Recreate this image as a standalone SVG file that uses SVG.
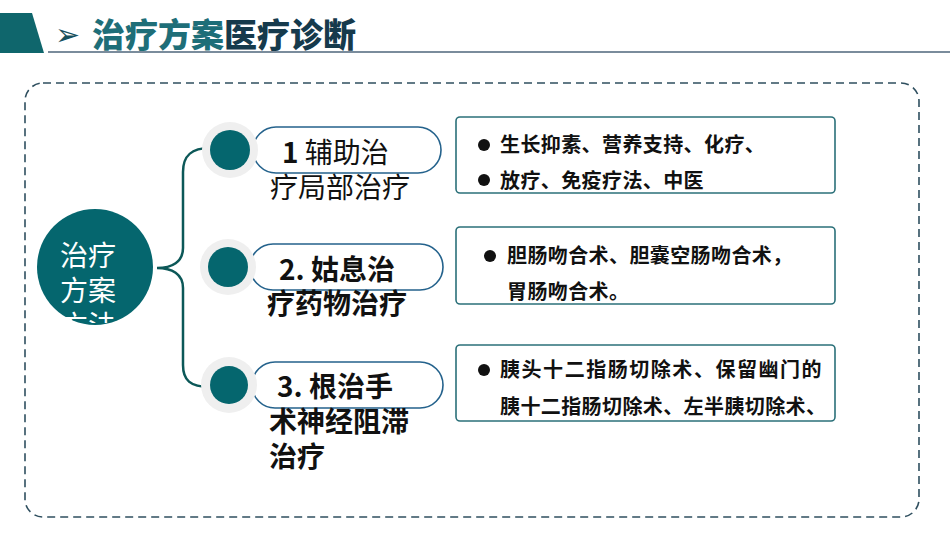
<svg xmlns="http://www.w3.org/2000/svg" width="950" height="535" viewBox="0 0 950 535">
<defs>
<style>
.cjk{font-family:"Noto Sans CJK SC","Noto Sans",sans-serif;}
.pill{fill:#ffffff;stroke:#24628c;stroke-width:1.6;}
.ring{fill:#efefef;}
.dot{fill:#05666e;}
.box{fill:#ffffff;stroke:#2b7079;stroke-width:1.6;}
.lbl{font-size:28px;fill:#111111;}
.item{font-size:20px;font-weight:bold;fill:#111111;letter-spacing:0.4px;}
.bul{fill:#111111;}
</style>
<clipPath id="tclip">
<rect x="30" y="200" width="140" height="123"/>
</clipPath>
</defs>
<rect width="950" height="535" fill="#ffffff"/>

<g id="header">
<polygon points="0,13 32,13 44,53 0,53" fill="#0f666c"/>
<line x1="48" y1="52" x2="950" y2="52" stroke="#7a8c9c" stroke-width="2"/>
<text x="55" y="45" font-size="30" fill="#17505c" font-family="DejaVu Sans, sans-serif">➢</text>
<text x="92" y="47" class="cjk" font-size="33" font-weight="900"><tspan fill="#1e6e78">治疗方案</tspan><tspan fill="#163a4c">医疗诊断</tspan></text>
</g>

<g id="frame">
<rect x="25" y="83" width="894" height="434" rx="18" ry="18" fill="none" stroke="#2f4f5f" stroke-width="1.6" stroke-dasharray="8 5"/>
</g>

<g id="connectors">
<path d="M210,148 C192,148 183,155 183,172 L183,248 C183,262 172,268 157,268 C172,268 183,274 183,288 L183,365 C183,380 190,387 210,387" fill="none" stroke="#0c5858" stroke-width="2.5"/>
</g>

<g id="root">
<circle cx="95" cy="267" r="58" fill="#05666e"/>
<g clip-path="url(#tclip)">
<text class="cjk" font-size="28" fill="#ffffff"><tspan x="60" y="266">治疗</tspan><tspan x="60" y="301">方案</tspan><tspan x="60" y="336">方法</tspan></text>
</g>
</g>

<g id="node1">
<rect x="253" y="127" width="188" height="46" rx="23" class="pill"/>
<circle cx="230" cy="150" r="28" class="ring"/>
<circle cx="230" cy="150" r="20" class="dot"/>
<text class="cjk lbl"><tspan x="282" y="163" font-weight="bold">1</tspan><tspan> 辅助治</tspan><tspan x="270" y="198">疗局部治疗</tspan></text>
</g>

<g id="node2">
<rect x="250" y="244" width="193" height="46" rx="23" class="pill"/>
<circle cx="228" cy="267" r="28" class="ring"/>
<circle cx="228" cy="267" r="20" class="dot"/>
<text class="cjk lbl" font-weight="bold"><tspan x="279" y="280">2. 姑息治</tspan><tspan x="267" y="314">疗药物治疗</tspan></text>
</g>

<g id="node3">
<rect x="252" y="362" width="191" height="46" rx="23" class="pill"/>
<circle cx="229" cy="385" r="28" class="ring"/>
<circle cx="229" cy="385" r="19" class="dot"/>
<text class="cjk lbl" font-weight="bold"><tspan x="277" y="397">3. 根治手</tspan><tspan x="269" y="432">术神经阻滞</tspan><tspan x="269" y="467">治疗</tspan></text>
</g>

<g id="box1">
<rect x="456" y="117" width="379" height="76" rx="4" class="box"/>
<circle cx="484" cy="145" r="6" class="bul"/>
<circle cx="484" cy="180" r="6" class="bul"/>
<text class="cjk item"><tspan x="500" y="152">生长抑素、营养支持、化疗、</tspan><tspan x="500" y="188">放疗、免疫疗法、中医</tspan></text>
</g>

<g id="box2">
<rect x="456" y="227" width="379" height="77" rx="4" class="box"/>
<circle cx="490" cy="256" r="6" class="bul"/>
<text class="cjk item"><tspan x="507" y="263">胆肠吻合术、胆囊空肠吻合术，</tspan><tspan x="507" y="299">胃肠吻合术。</tspan></text>
</g>

<g id="box3">
<rect x="456" y="345" width="379" height="76" rx="4" class="box"/>
<circle cx="484" cy="370" r="6" class="bul"/>
<text class="cjk item"><tspan x="500" y="377" textLength="322" lengthAdjust="spacing">胰头十二指肠切除术、保留幽门的</tspan><tspan x="500" y="414">胰十二指肠切除术、左半胰切除术、</tspan></text>
</g>
</svg>
